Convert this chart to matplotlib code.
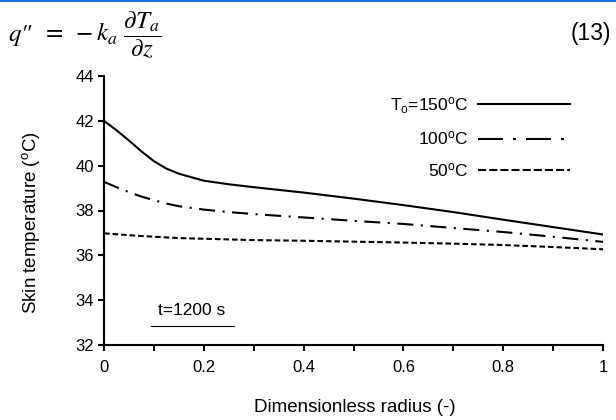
import matplotlib
matplotlib.use("Agg")
import matplotlib.pyplot as plt
from matplotlib.lines import Line2D
from matplotlib.ticker import MultipleLocator
from matplotlib.offsetbox import TextArea, HPacker, AnchoredOffsetbox

plt.rcParams['font.family'] = ['Liberation Sans', 'DejaVu Sans']
plt.rcParams['mathtext.fontset'] = 'custom'
plt.rcParams['mathtext.rm'] = 'Liberation Sans'
plt.rcParams['mathtext.it'] = 'Liberation Sans:italic'
plt.rcParams['mathtext.bf'] = 'Liberation Sans:bold'

# ---- data ----
radius = [0, 0.025, 0.05, 0.075, 0.1, 0.125, 0.15, 0.2, 0.25, 0.3, 0.4, 0.5, 0.6, 0.7, 0.8, 0.9, 1.0]
temp_150 = [42.0, 41.58, 41.12, 40.64, 40.2, 39.87, 39.64, 39.33, 39.17, 39.04, 38.8, 38.53, 38.24, 37.93, 37.59, 37.26, 36.93]
temp_100 = [39.28, 39.04, 38.82, 38.62, 38.46, 38.31, 38.19, 38.04, 37.93, 37.84, 37.69, 37.54, 37.4, 37.22, 37.04, 36.83, 36.6]
temp_50 = [36.98, 36.94, 36.9, 36.86, 36.83, 36.8, 36.77, 36.74, 36.71, 36.68, 36.65, 36.61, 36.57, 36.52, 36.46, 36.37, 36.27]
legend_labels = [r'T$_{\rm o}$=150$^{\rm o}$C', r'100$^{\rm o}$C', r'50$^{\rm o}$C']
xticks = [0, 0.2, 0.4, 0.6, 0.8, 1.0]
xticklabels = ['0', '0.2', '0.4', '0.6', '0.8', '1']
yticks = [32, 34, 36, 38, 40, 42, 44]

fig = plt.figure(figsize=(6.16, 4.2), dpi=100)
ax = fig.add_axes([104/616, 1-345/420, (603-104)/616, (345-76)/420])

lw = 1.5
ax.plot(radius, temp_150, color='black', lw=lw, linestyle='-')
ax.plot(radius, temp_100, color='black', lw=lw, linestyle=(0, (7.7, 3.6, 1.0, 3.6)))
ax.plot(radius, temp_50, color='black', lw=lw, linestyle=(0, (2.7, 1.4)))

ax.set_xlim(0, 1)
ax.set_ylim(32, 44)
ax.set_xticks(xticks)
ax.set_xticklabels(xticklabels)
ax.xaxis.set_minor_locator(MultipleLocator(0.1))
ax.set_yticks(yticks)

for s in ['top', 'right']:
    ax.spines[s].set_visible(False)
for s in ['left', 'bottom']:
    ax.spines[s].set_linewidth(1.5)
ax.tick_params(which='both', direction='out', length=4, width=1.5, labelsize=12, colors='black')
ax.tick_params(axis='x', pad=7)
ax.tick_params(axis='y', pad=3)

ax.set_xlabel('Dimensionless radius (-)', fontsize=13.5)
ax.set_ylabel(r'Skin temperature ($^{\rm o}$C)', fontsize=13.5)
ax.xaxis.set_label_coords(0.503, -0.2)
ax.yaxis.set_label_coords(-0.124, 0.4535)

handles = [
    Line2D([], [], color='black', lw=lw, linestyle='-'),
    Line2D([], [], color='black', lw=lw, linestyle=(0, (12, 4.8, 1.45, 4.8))),
    Line2D([], [], color='black', lw=lw, linestyle=(0, (3.9, 1.45))),
]
ax.legend(handles, legend_labels, markerfirst=False, frameon=False, fontsize=12.5,
          handlelength=5.3, handletextpad=0.57, labelspacing=0.8,
          loc='upper right', bbox_to_anchor=((570-104)/499, (345-95)/269),
          borderaxespad=0.0, borderpad=0.0)

# annotation
ax.text(0.175, 0.127, 't=1200 s', transform=ax.transAxes, fontsize=12.5, ha='center', va='center')
ax.add_line(Line2D([0.094, 0.2615], [0.0706, 0.0706], transform=ax.transAxes, color='black', lw=0.8))

# equation header
fig.add_artist(Line2D([0, 1], [0.998, 0.998], transform=fig.transFigure, color='#1f6fe0', lw=1.5))
t1 = TextArea('q"', textprops=dict(fontsize=18, family='STIXGeneral', style='italic'))
t2 = TextArea(r'$=\ -k_a\ \dfrac{\partial T_a}{\partial z}$',
              textprops=dict(fontsize=18, math_fontfamily='stix'))
pack = HPacker(children=[t1, t2], align='baseline', pad=0, sep=8)
box = AnchoredOffsetbox(loc='center left', child=pack, bbox_to_anchor=(0.013, 0.917),
                        bbox_transform=fig.transFigure, frameon=False, pad=0, borderpad=0)
fig.add_artist(box)
fig.text(0.992, 0.921, '(13)', fontsize=16.5, ha='right', va='center')

fig.savefig('out.png', dpi=100)
